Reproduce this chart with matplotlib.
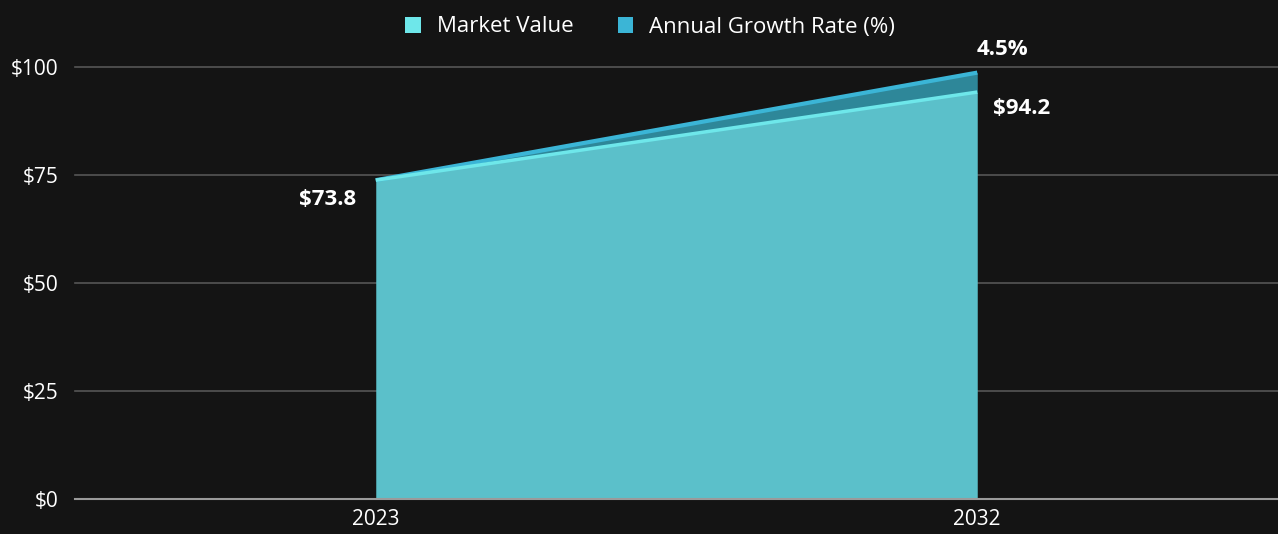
import matplotlib
matplotlib.use("Agg")
import matplotlib.pyplot as plt
from matplotlib.patches import Patch

years = ["2023", "2032"]
market_value = [73.8, 94.2]
growth_rate = [0, 4.5]
y_ticks = [0, 25, 50, 75, 100]

plt.rcParams['font.family'] = ['Open Sans', 'DejaVu Sans']

bg = "#141414"
c_mv_line = "#6EE7EA"
c_mv_fill = "#5BC0CA"
c_gr_line = "#3BB5D6"
c_gr_fill = "#2E8799"

fig = plt.figure(figsize=(12.78, 5.34), dpi=100, facecolor=bg)
ax = fig.add_axes([75 / 1278, 35 / 534, 1 - 75 / 1278, 432 / 534])
ax.set_facecolor(bg)

x = list(range(len(years)))
top = [m + g for m, g in zip(market_value, growth_rate)]

ax.fill_between(x, market_value, top, color=c_gr_fill, lw=0)
ax.fill_between(x, 0, market_value, color=c_mv_fill, lw=0)
ax.plot(x, top, color=c_gr_line, lw=3, solid_capstyle="butt", clip_on=False)
ax.plot(x, market_value, color=c_mv_line, lw=2.5, solid_capstyle="butt")

ax.set_xlim(-0.5, 1.5)
ax.set_ylim(0, 100)
ax.set_xticks(x)
ax.set_xticklabels(years)
ax.set_yticks(y_ticks)
ax.set_yticklabels(["$%d" % v for v in y_ticks])
ax.tick_params(colors="white", labelsize=15, length=0, pad=12)
ax.tick_params(axis="x", pad=7)
for s in ax.spines.values():
    s.set_visible(False)
for v in y_ticks:
    ax.axhline(v, color="#9a9a9a" if v == 0 else "#555555", lw=1.5 if v == 0 else 1.2,
               zorder=0 if v else 3, clip_on=False)

# labels
lbl = dict(textcoords="offset points", ha="center", va="center",
           color="white", fontsize=16, fontweight="bold", annotation_clip=False)
ax.annotate("$%.1f" % market_value[0], (x[0], market_value[0]), xytext=(-35, -14), **lbl)
ax.annotate("$%.1f" % market_value[1], (x[1], market_value[1]), xytext=(32, -12), **lbl)
ax.annotate("%.1f%%" % growth_rate[1], (x[1], top[1]), xytext=(18, 17), **lbl)

handles = [Patch(facecolor=c_mv_line, label="Market Value"),
           Patch(facecolor=c_gr_line, label="Annual Growth Rate (%)")]
fig.legend(handles=handles, loc="center", bbox_to_anchor=(650 / 1278, 1 - 27 / 534),
           ncol=2, frameon=False, fontsize=16, labelcolor="white",
           handlelength=0.7, handleheight=0.7, handletextpad=0.7, columnspacing=2.0)

fig.savefig("out.png", dpi=100, facecolor=bg)
